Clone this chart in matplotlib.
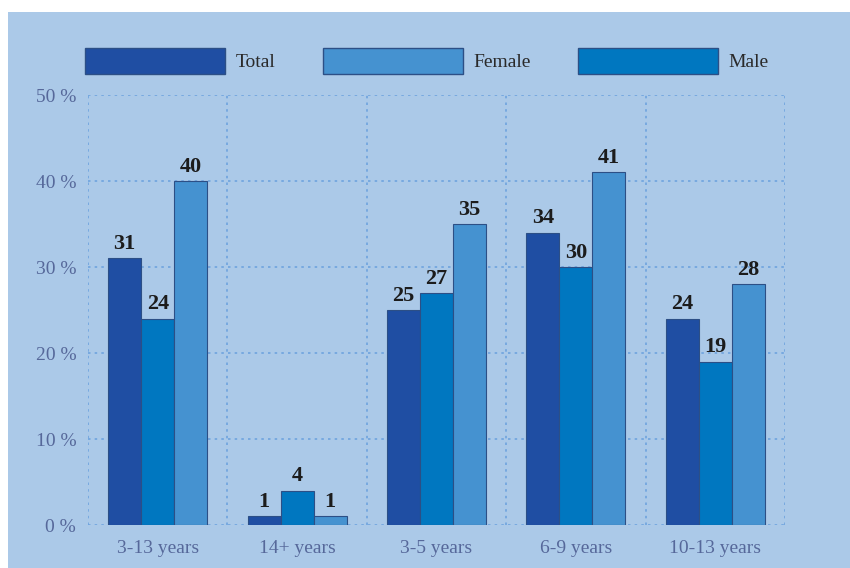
import numpy as np
import matplotlib.pyplot as plt
from matplotlib.patches import Rectangle, Patch

# data
categories = ["3-13 years", "14+ years", "3-5 years", "6-9 years", "10-13 years"]
total = [31, 1, 25, 34, 24]
male = [24, 4, 27, 30, 19]
female = [40, 1, 35, 41, 28]
y_ticks = [0, 10, 20, 30, 40, 50]
y_tick_labels = ["0 %", "10 %", "20 %", "30 %", "40 %", "50 %"]

# colours
BG = "#abc9e8"
C_TOTAL = "#1f4ea3"
C_MALE = "#0077c0"
C_FEMALE = "#4592d0"
GRID = "#6ea3de"
TICK_COL = "#56689a"

plt.rcParams["font.family"] = ["Liberation Serif", "DejaVu Serif"]

fig = plt.figure(figsize=(8.5, 5.68), dpi=100)
fig.patch.set_facecolor("white")
# light blue panel with white margin at top/left
fig.patches.append(Rectangle((8 / 850, 0), 1, 1 - 12 / 568, transform=fig.transFigure,
                             facecolor=BG, edgecolor="none", zorder=-10))

ax = fig.add_axes([88 / 850, 1 - 525 / 568, (785 - 88) / 850, (525 - 95) / 568])
ax.set_facecolor("none")

xs = np.arange(len(categories))
w = 0.237

def add_bars(offset, vals, color):
    bars = ax.bar(xs + offset, vals, width=w, color=color, edgecolor="#2c4f86",
                  linewidth=0.8, zorder=3)
    for b, v in zip(bars, vals):
        ax.text(b.get_x() + b.get_width() / 2, v + 0.5, str(v), ha="center", va="bottom",
                fontsize=16, fontweight="bold", color="#1c1c1c", zorder=4)
    return bars

add_bars(-w, total, C_TOTAL)
add_bars(0, male, C_MALE)
add_bars(w, female, C_FEMALE)

ax.set_xlim(-0.5, len(categories) - 0.5)
ax.set_ylim(0, 50)

ax.set_yticks(y_ticks)
ax.set_yticklabels(y_tick_labels, fontsize=14, color=TICK_COL)
ax.set_xticks(xs)
ax.set_xticklabels(categories, fontsize=14, color=TICK_COL)
ax.set_xticks(np.arange(-0.5, len(categories), 1.0), minor=True)
ax.tick_params(axis="both", which="both", length=0)
ax.tick_params(axis="y", pad=8.5)
ax.tick_params(axis="x", pad=11)

ax.grid(axis="y", which="major", color=GRID, linestyle=(0, (1.5, 2.5)), linewidth=1.2, zorder=0)
ax.grid(axis="x", which="minor", color=GRID, linestyle=(0, (1.5, 2.5)), linewidth=1.2, zorder=0)
ax.grid(axis="x", which="major", visible=False)
for s in ax.spines.values():
    s.set_visible(False)

# legend
handles = [Patch(facecolor=C_TOTAL, edgecolor="#2c4f86", label="Total"),
           Patch(facecolor=C_FEMALE, edgecolor="#2c4f86", label="Female"),
           Patch(facecolor=C_MALE, edgecolor="#2c4f86", label="Male")]
fig.legend(handles=handles, loc="center left", bbox_to_anchor=(85 / 850, 1 - 61 / 568),
           ncol=3, frameon=False, fontsize=14, handlelength=7.2, handleheight=1.65,
           handletextpad=0.57, columnspacing=2.4, borderpad=0, borderaxespad=0,
           labelcolor="#2a2a2a")

fig.savefig("out.png", dpi=100, facecolor=fig.get_facecolor())
